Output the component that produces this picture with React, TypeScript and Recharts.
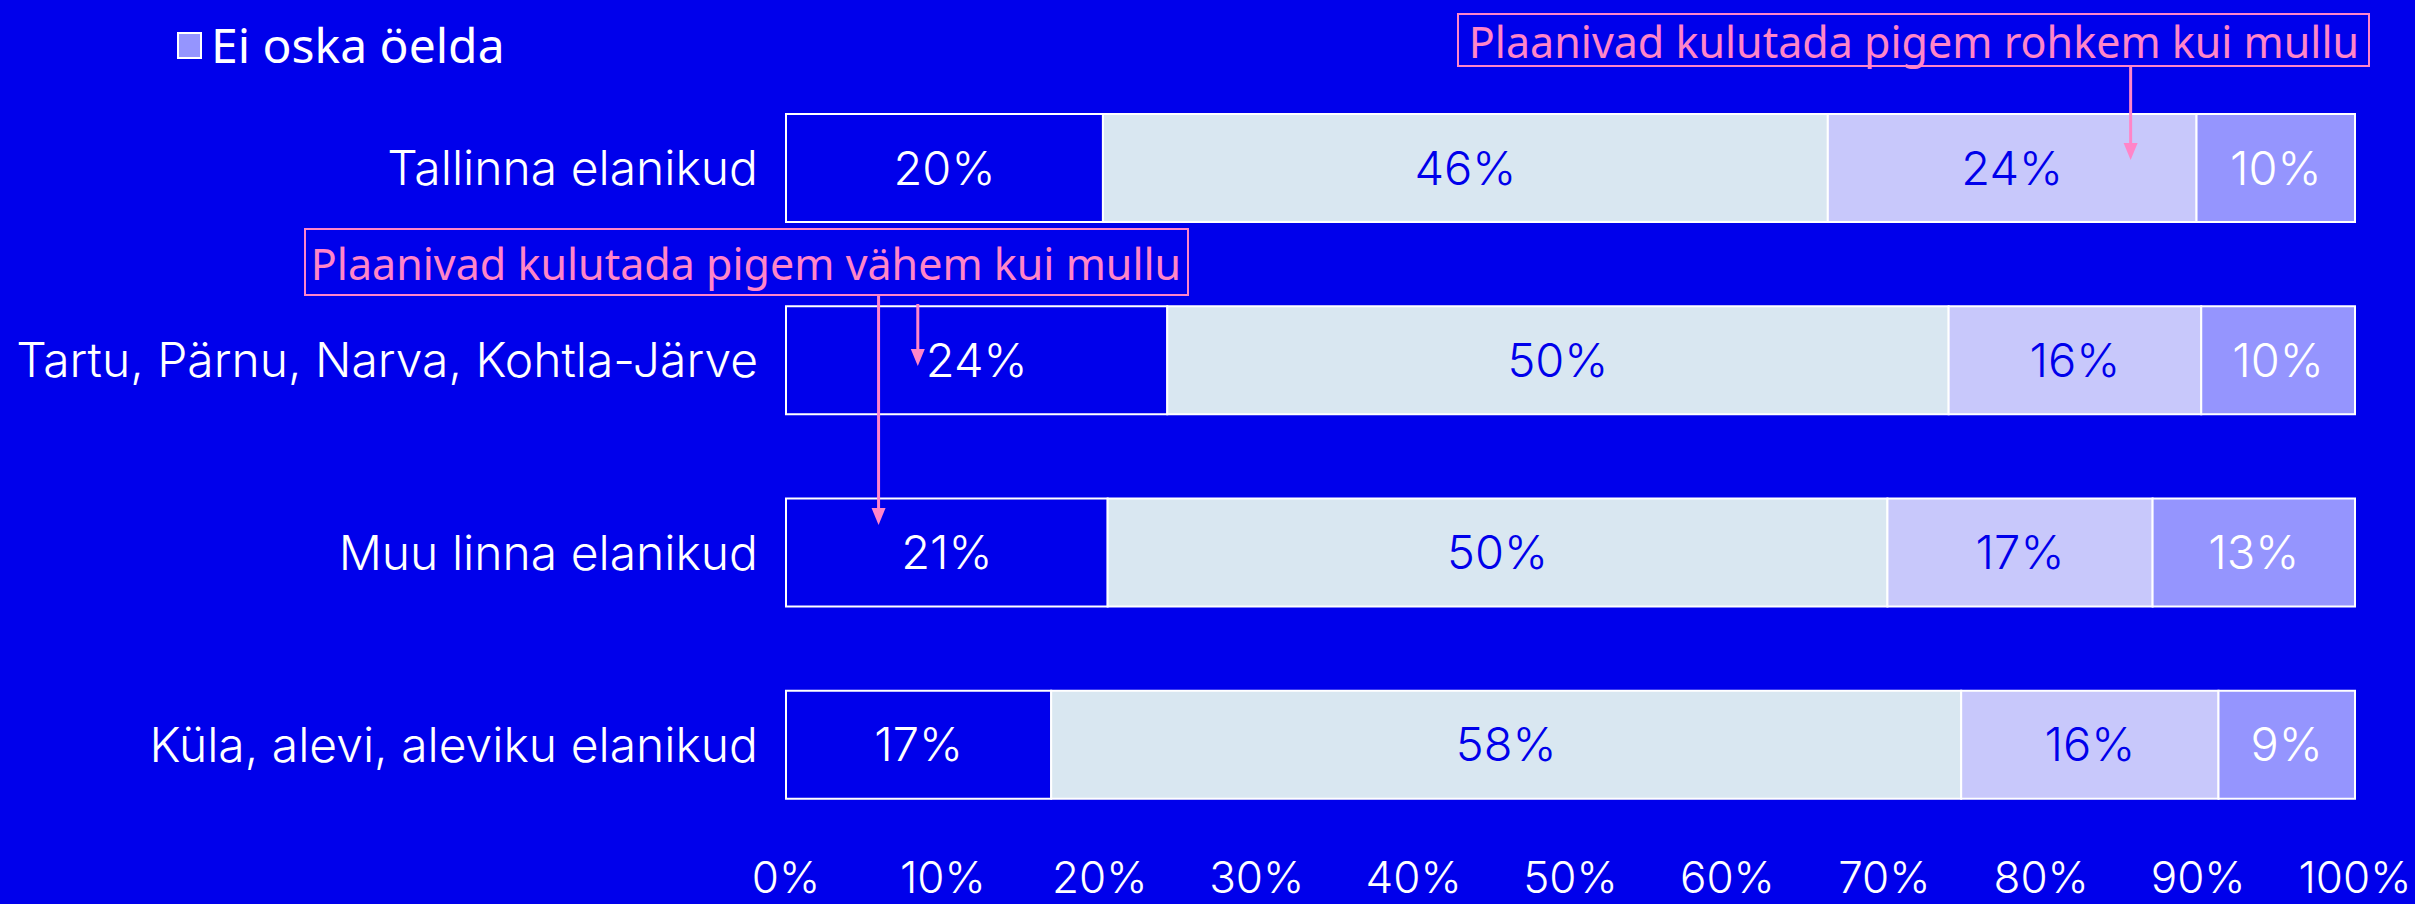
import React from 'react';
import { BarChart, Bar, XAxis, YAxis, Legend, LabelList } from 'recharts';

// Data
const categories = [
    'Tallinna elanikud',
    'Tartu, Pärnu, Narva, Kohtla-Järve',
    'Muu linna elanikud',
    'Küla, alevi, aleviku elanikud',
];
const seriesNames = [
    'Plaanivad kulutada pigem vähem kui mullu',
    'Plaanivad kulutada sama palju kui mullu',
    'Plaanivad kulutada pigem rohkem kui mullu',
    'Ei oska öelda',
];
const lessValues = [20.2, 24.3, 20.5, 16.9];
const sameValues = [46.2, 49.8, 49.7, 58.0];
const moreValues = [23.5, 16.1, 16.9, 16.4];
const unsureValues = [10.1, 9.8, 12.9, 8.7];
const xTicks = [0, 10, 20, 30, 40, 50, 60, 70, 80, 90, 100];

const BG = '#0000EB';
const PINK = '#FF85C8';
const COLORS = [BG, '#D9E7F1', '#C8C8FB', '#9595FE'];
const LABEL_COLORS = ['#FFFFFF', BG, BG, '#FFFFFF'];

const W = 2415;
const H = 904;
const PLOT_LEFT = 786;
const PLOT_RIGHT = 2355;
const PLOT_TOP = 72;
const PLOT_BOTTOM = 841;
const PLOT_W = PLOT_RIGHT - PLOT_LEFT;

const data = categories.map((name, i) => ({
    name,
    less: lessValues[i],
    same: sameValues[i],
    more: moreValues[i],
    unsure: unsureValues[i],
}));
const keys = ['less', 'same', 'more', 'unsure'];

const xAt = (pct: number) => PLOT_LEFT + (pct / 100) * PLOT_W;

const renderLegend = (props: any) => {
    const items = (props.payload || []).filter((p: any) => p.value === 'Ei oska öelda');
    return (
        <div style={{ display: 'flex', alignItems: 'center' }}>
            {items.map((it: any) => (
                <div key={it.value} style={{ display: 'flex', alignItems: 'center' }}>
                    <span style={{
                        display: 'inline-block', width: 21, height: 23, background: it.color,
                        border: '2px solid #fff', marginRight: 9,
                    }} />
                    <span style={{ color: '#fff', fontSize: 48, fontFamily: '"Noto Sans", sans-serif', lineHeight: 1 }}>
                        {it.value}
                    </span>
                </div>
            ))}
        </div>
    );
};

// Pink callouts
const Arrow = ({ x, y1, y2 }: { x: number; y1: number; y2: number }) => (
    <g>
        <line x1={x} y1={y1} x2={x} y2={y2 - 14} stroke={PINK} strokeWidth={3} />
        <polygon points={`${x - 7},${y2 - 17} ${x + 7},${y2 - 17} ${x},${y2}`} fill={PINK} />
    </g>
);

const Callouts = () => (
    <svg width={W} height={H} style={{ position: 'absolute', left: 0, top: 0, pointerEvents: 'none' }}>
        <rect x={1458} y={14} width={911} height={52} fill="none" stroke={PINK} strokeWidth={2} />
        <text x={1914} y={41} textAnchor="middle" dominantBaseline="central" fill={PINK}
            fontSize={43} fontFamily='"Noto Sans", sans-serif'>
            Plaanivad kulutada pigem rohkem kui mullu
        </text>
        <Arrow x={xAt(85.7)} y1={66} y2={160} />

        <rect x={305} y={229} width={883} height={66} fill="none" stroke={PINK} strokeWidth={2} />
        <text x={746} y={263} textAnchor="middle" dominantBaseline="central" fill={PINK}
            fontSize={43} fontFamily='"Noto Sans", sans-serif'>
            Plaanivad kulutada pigem vähem kui mullu
        </text>
        <Arrow x={xAt(8.4)} y1={304} y2={366} />
        <Arrow x={xAt(5.9)} y1={295} y2={525} />
    </svg>
);

export default function App() {
    return (
        <div style={{ position: 'fixed', left: 0, top: 0, width: W, height: H, background: BG, overflow: 'hidden' }}>
            <BarChart
                width={W}
                height={H}
                data={data}
                layout="vertical"
                margin={{ top: PLOT_TOP, right: W - PLOT_RIGHT, bottom: 0, left: 0 }}
            >
                <XAxis
                    type="number"
                    domain={[0, 100]}
                    ticks={xTicks}
                    interval={0}
                    tickFormatter={(v: number) => `${v}%`}
                    axisLine={false}
                    tickLine={false}
                    tickSize={0}
                    tickMargin={21}
                    height={H - PLOT_BOTTOM}
                    tick={{ fill: '#fff', fontSize: 44, fontFamily: 'Inter, sans-serif', fontWeight: 300 }}
                />
                <YAxis
                    type="category"
                    dataKey="name"
                    width={PLOT_LEFT}
                    axisLine={false}
                    tickLine={false}
                    tickSize={0}
                    tickMargin={28}
                    tick={{ fill: '#fff', fontSize: 48, fontFamily: 'Inter, sans-serif', fontWeight: 300 }}
                />
                <Legend
                    layout="horizontal"
                    verticalAlign="middle"
                    align="center"
                    content={renderLegend}
                    wrapperStyle={{ top: 21, left: 177, width: 'auto', height: 'auto' }}
                />
                {keys.map((k, i) => (
                    <Bar
                        key={k}
                        dataKey={k}
                        name={seriesNames[i]}
                        stackId="a"
                        fill={COLORS[i]}
                        stroke="#fff"
                        strokeWidth={2}
                        barSize={108}
                        isAnimationActive={false}
                    >
                        <LabelList
                            dataKey={k}
                            position="center"
                            formatter={(v: any) => `${Math.round(Number(v))}%`}
                            fill={LABEL_COLORS[i]}
                            fontSize={47}
                            fontFamily="Inter, sans-serif"
                            fontWeight={300}
                        />
                    </Bar>
                ))}
            </BarChart>
            <Callouts />
        </div>
    );
}
